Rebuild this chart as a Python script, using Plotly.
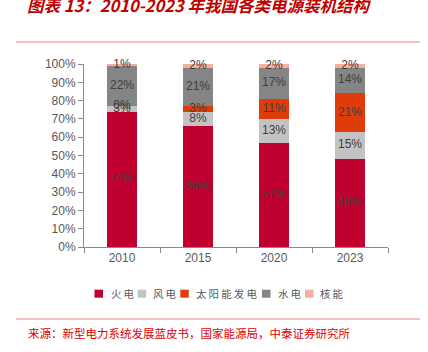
import plotly.graph_objects as go
import numpy as np

years = ["2010", "2015", "2020", "2023"]
series_names = ["火电", "风电", "太阳能发电", "水电", "核能"]
thermal = [74, 66, 57, 48]
wind = [3, 8, 13, 15]
solar = [0, 3, 11, 21]
hydro = [22, 21, 17, 14]
nuclear = [1, 2, 2, 2]
colors = ["#C0002F", "#C3C3C3", "#E03C0A", "#858585", "#F7AE9C"]

values = [thermal, wind, solar, hydro, nuclear]

fig = go.Figure()
for name, vals, col in zip(series_names, values, colors):
    fig.add_trace(go.Bar(x=years, y=vals, name=name, marker=dict(color=col, line=dict(width=0)),
                         width=0.4, showlegend=False))

cum = np.zeros(len(years))
for vals in values:
    v = np.array(vals, dtype=float)
    mid = cum + v / 2
    fig.add_trace(go.Scatter(x=years, y=mid, mode="text", text=[f"{int(a)}%" for a in vals],
                             textfont=dict(color="#404040", size=12, family="Arial, Liberation Sans"),
                             showlegend=False, cliponaxis=False, hoverinfo="skip"))
    cum += v

FONT = "Noto Sans CJK SC"
L, T, W, H = 84, 64, 304, 183


def px_x(x):
    return (x - L) / W


def px_y(y):
    return 1 - (y - T) / H


# legend (entry layout in pixels)
leg_sq_x = [94.5, 137.7, 180.3, 262, 305]
leg_tx_x = [108.5, 150.5, 193.5, 275.5, 317.5]
leg_y = 293.7
shapes = [
    dict(type="line", xref="paper", yref="paper", x0=px_x(16), x1=px_x(420),
         y0=px_y(42), y1=px_y(42), line=dict(color="#E88080", width=1)),
    dict(type="line", xref="paper", yref="paper", x0=px_x(16), x1=px_x(420),
         y0=px_y(319), y1=px_y(319), line=dict(color="#E88080", width=1)),
]
annotations = [
    dict(text="<b><i>图表 13：2010-2023 年我国各类电源装机结构</i></b>", xref="paper", yref="paper",
         x=px_x(25), y=px_y(5), xanchor="left", yanchor="middle", showarrow=False,
         font=dict(family=FONT, size=16.5, color="#C00000")),
    dict(text="来源：新型电力系统发展蓝皮书，国家能源局，中泰证券研究所", xref="paper", yref="paper",
         x=px_x(26), y=px_y(333), xanchor="left", yanchor="middle", showarrow=False,
         font=dict(family=FONT, size=11.5, color="#E00000")),
]
for name, col, sx, tx in zip(series_names, colors, leg_sq_x, leg_tx_x):
    shapes.append(dict(type="rect", xref="paper", yref="paper", x0=px_x(sx), x1=px_x(sx + 8.5),
                       y0=px_y(leg_y - 4), y1=px_y(leg_y + 4), fillcolor=col, line=dict(width=0)))
    annotations.append(dict(text="\u2009".join(name), xref="paper", yref="paper", x=px_x(tx),
                            y=px_y(leg_y), xanchor="left", yanchor="middle", showarrow=False,
                            font=dict(family=FONT, size=10.5, color="#595959")))

fig.update_layout(
    barmode="stack",
    width=428, height=352,
    margin=dict(l=L, r=428 - L - W, t=T, b=352 - T - H),
    paper_bgcolor="white", plot_bgcolor="white",
    font=dict(family="Arial, Liberation Sans", color="#595959", size=12),
    showlegend=False,
    xaxis=dict(type="category", showline=True, linecolor="#8A8A8A", ticks="outside",
               tickson="boundaries", ticklen=5, tickcolor="#8A8A8A",
               tickfont=dict(size=12, color="#595959"), showgrid=False),
    yaxis=dict(range=[0, 100], dtick=10, ticksuffix="%", showline=True, linecolor="#8A8A8A",
               ticks="outside", ticklen=5, tickcolor="#8A8A8A", showgrid=False, zeroline=False,
               tickfont=dict(size=12, color="#595959")),
    shapes=shapes,
    annotations=annotations,
)

fig.write_html("out.html")
